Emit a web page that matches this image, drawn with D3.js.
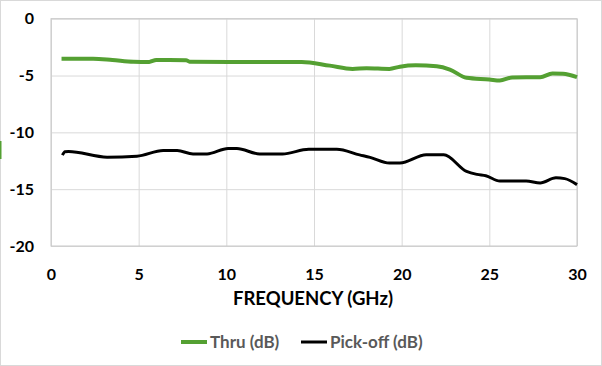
<!DOCTYPE html>
<html><head><meta charset="utf-8">
<script src="https://cdn.jsdelivr.net/npm/d3@7"></script>
<style>body{margin:0;background:#fff}svg{display:block}</style>
</head><body>
<svg id="c" width="602" height="366"></svg>
<script>
const thruFreq = [0.6, 2.4, 3.5, 4.7, 5.6, 6.0, 7.7, 7.9, 10.2, 14.3, 15.9, 17.2, 18.0, 19.3, 19.9, 20.8, 22.0, 22.75, 23.7, 25.0, 25.6, 26.3, 27.9, 28.6, 29.2, 30.0];
const thruDb   = [-3.52, -3.52, -3.63, -3.78, -3.8, -3.64, -3.65, -3.78, -3.8, -3.8, -4.13, -4.42, -4.36, -4.42, -4.22, -4.1, -4.19, -4.48, -5.2, -5.35, -5.44, -5.17, -5.15, -4.83, -4.85, -5.15];
const pickFreq = [0.65, 0.8, 1.0, 3.2, 4.9, 6.4, 7.2, 8.1, 8.9, 10.1, 10.6, 11.9, 13.2, 14.7, 16.3, 17.6, 18.2, 19.3, 19.9, 21.4, 22.4, 23.7, 24.3, 24.8, 25.6, 27.1, 27.9, 28.8, 29.3, 30.0];
const pickDb   = [-12.0, -11.7, -11.68, -12.18, -12.1, -11.6, -11.6, -11.9, -11.9, -11.42, -11.42, -11.9, -11.9, -11.49, -11.49, -11.98, -12.2, -12.7, -12.7, -11.98, -11.98, -13.44, -13.7, -13.82, -14.28, -14.28, -14.45, -14.0, -14.07, -14.6];
const xTicks = [0, 5, 10, 15, 20, 25, 30];
const yTicks = [0, -5, -10, -15, -20];
const seriesNames = ["Thru (dB)", "Pick-off (dB)"];
const seriesColors = ["#54A032", "#000000"];

const svg = d3.select("#c");
const L = 51, R = 577, T = 18.7, B = 246;
const x = d3.scaleLinear().domain([0, 30]).range([L, R]);
const y = d3.scaleLinear().domain([-20, 0]).range([B, T]);
const font = "Lato, 'Open Sans', sans-serif";

svg.append("rect").attr("x", 0.5).attr("y", 0.5).attr("width", 601).attr("height", 365)
  .attr("fill", "#fff").attr("stroke", "#d9d9d9");
svg.append("rect").attr("x", 0).attr("y", 141).attr("width", 1.5).attr("height", 18).attr("fill", "#54A032");

// gridlines
const gx = svg.append("g").attr("transform", `translate(0,${B})`)
  .call(d3.axisBottom(x).tickValues(xTicks).tickSize(-(B - T)).tickFormat(""));
const gy = svg.append("g").attr("transform", `translate(${L},0)`)
  .call(d3.axisLeft(y).tickValues(yTicks).tickSize(-(R - L)).tickFormat(""));
[gx, gy].forEach(g => { g.select(".domain").remove(); g.selectAll("line").attr("stroke", "#d9d9d9").attr("stroke-width", 1); });
svg.append("rect").attr("x", L).attr("y", T).attr("width", R - L).attr("height", B - T)
  .attr("fill", "none").attr("stroke", "#c8c8c8").attr("stroke-width", 1);

// tick labels
const tx = svg.append("g").attr("transform", `translate(0,${B})`)
  .call(d3.axisBottom(x).tickValues(xTicks).tickSize(0).tickPadding(22).tickFormat(d3.format("d")));
const ty = svg.append("g").attr("transform", `translate(${L},0)`)
  .call(d3.axisLeft(y).tickValues(yTicks).tickSize(0).tickPadding(17).tickFormat(d => d === 0 ? "0" : "-" + Math.abs(d)));
[tx, ty].forEach(g => { g.select(".domain").remove();
  g.selectAll("text").attr("font-family", font).attr("font-weight", "bold").attr("font-size", 16).attr("fill", "#000"); });
tx.selectAll("text").attr("dy", "0.35em").attr("y", 28);

svg.append("text").attr("x", 313).attr("y", 299).attr("dy", "0.35em").attr("text-anchor", "middle")
  .attr("font-family", font).attr("font-weight", "bold").attr("font-size", 18.5).attr("fill", "#000")
  .text("FREQUENCY (GHz)");

// lines
const line = d3.line().x(d => x(d[0])).y(d => y(d[1])).curve(d3.curveMonotoneX);
const thru = thruFreq.map((f, i) => [f, thruDb[i]]);
const pick = pickFreq.map((f, i) => [f, pickDb[i]]);
svg.append("path").datum(thru).attr("d", line).attr("fill", "none")
  .attr("stroke", seriesColors[0]).attr("stroke-width", 4).attr("stroke-linejoin", "round");
svg.append("path").datum(pick).attr("d", line).attr("fill", "none")
  .attr("stroke", seriesColors[1]).attr("stroke-width", 3).attr("stroke-linejoin", "round");

// legend
const legX = [181, 301];
seriesNames.forEach((n, i) => {
  svg.append("line").attr("x1", legX[i]).attr("x2", legX[i] + 26).attr("y1", 342).attr("y2", 342)
    .attr("stroke", seriesColors[i]).attr("stroke-width", i === 0 ? 4 : 3);
  svg.append("text").attr("x", legX[i] + 29).attr("y", 342).attr("dy", "0.35em")
    .attr("font-family", font).attr("font-weight", "bold").attr("font-size", 17).attr("fill", "#595959").text(n);
});
</script>
</body></html>
